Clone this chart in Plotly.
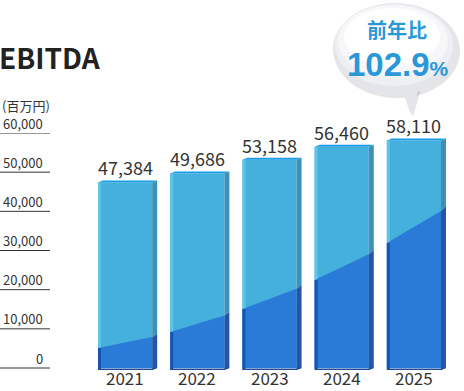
import plotly.graph_objects as go

# ---------------- data ----------------
years = ["2021", "2022", "2023", "2024", "2025"]
ebitda = [47384, 49686, 53158, 56460, 58110]
y_ticks = [0, 10000, 20000, 30000, 40000, 50000, 60000]
unit_label = "(百万円)"
title_text = "EBITDA"
yoy_label = "前年比"
yoy_value = "102.9"

# ---------------- style / layout ----------------
W, H = 464, 391
ML, MR, MT, MB = 89, 14, 133, 18
PW, PH = W - ML - MR, H - MT - MB
Y_MAX = 60000
Y_MIN = -Y_MAX * 5 / 235           # leave a few px under zero line
XU = 5 / PW                        # x data units per pixel
YU = (Y_MAX - Y_MIN) / PH          # y data units per pixel
FONT = "Noto Sans CJK JP"
NUM_FONT = "Liberation Sans"
TXT = "#333333"
BLUE_TXT = "#2a98d8"

BAR_W = 0.75
DEPTH_X, DEPTH_Y = 5, 2            # pseudo-3D depth, px
# decorative dark swoosh heights (px above baseline) at bar left / side edge
SWOOSH_L = [20, 36, 59, 88, 125]
SWOOSH_R = [32, 54, 81, 116, 160]


def px2x(px):
    return (px - ML) / PW


def px2y(py):
    return (H - MB - py) / PH


idx = list(range(len(years)))

fig = go.Figure()
fig.add_trace(go.Bar(
    x=idx, y=ebitda, width=BAR_W, marker=dict(color="#45b0dc", line=dict(width=0)),
    hoverinfo="skip", showlegend=False,
))

shapes = []


def poly(pts, color):
    d = "M " + " L ".join(f"{x},{y}" for x, y in pts) + " Z"
    shapes.append(dict(type="path", path=d, xref="x", yref="y",
                       fillcolor=color, line=dict(width=0), layer="above"))


hw = BAR_W / 2
for i, v in enumerate(ebitda):
    xl, xr = i - hw, i + hw
    xs = xr + DEPTH_X * XU
    dy = DEPTH_Y * YU
    frac = (2 * hw) / (2 * hw + DEPTH_X * XU)
    sl = SWOOSH_L[i] * YU
    srs = SWOOSH_R[i] * YU
    srf = sl + (srs - sl) * frac
    stripe = xl + 3 * XU
    # dark lower front
    poly([(xl, 0), (xr, 0), (xr, srf), (xl, sl)], "#2a7bd8")
    # side faces
    poly([(xr, srf), (xs, srs + dy), (xs, v + dy), (xr, v)], "#3e90b6")
    poly([(xr, -dy), (xs, 0), (xs, srs + dy), (xr, srf)], "#2455a8")
    # left stripe
    poly([(xl, sl), (stripe, sl + (srf - sl) * 0.05), (stripe, v), (xl, v)], "#5cc5ea")
    poly([(xl, -dy), (stripe, -dy), (stripe, sl), (xl, sl)], "#1555b0")
    # bottom band
    poly([(xl, -dy), (xr, -dy), (xs, 0), (xs, dy * 0.2), (xr, -dy * 0.2), (xl, -dy * 0.2)], "#1c4c98")
    # top face
    poly([(xl, v), (xl + DEPTH_X * XU, v + dy), (xs, v + dy), (xr, v)], "#1a9be6")

# y-axis labels with rules
annotations = []
for t in y_ticks:
    shapes.append(dict(type="line", xref="paper", yref="y", x0=px2x(0), x1=px2x(50),
                       y0=t, y1=t, line=dict(color=TXT, width=1)))
    annotations.append(dict(xref="paper", yref="y", x=px2x(44), y=t, yshift=10,
                            xanchor="right", yanchor="middle", showarrow=False, borderpad=0,
                            text=f"{t:,}", font=dict(family=FONT, size=13, color=TXT)))

annotations.append(dict(xref="paper", yref="y", x=px2x(1), y=Y_MAX, yshift=28,
                        xanchor="left", yanchor="middle", showarrow=False, borderpad=0,
                        text=unit_label, font=dict(family=FONT, size=13, color=TXT)))
annotations.append(dict(xref="paper", yref="y", x=px2x(-2), y=Y_MAX, yshift=76,
                        xanchor="left", yanchor="middle", showarrow=False, borderpad=0,
                        text=title_text, font=dict(family=FONT, size=28, color="#222222", weight=700)))

# value labels and category labels
for i, v in zip(idx, ebitda):
    annotations.append(dict(x=i, y=v, xref="x", yref="y", yshift=1, yanchor="bottom",
                            showarrow=False, text=f"{v:,}", borderpad=0,
                            font=dict(family=FONT, size=18, color=TXT)))
    annotations.append(dict(x=i, y=px2y(391), xref="x", yref="paper", yanchor="bottom",
                            showarrow=False, text=years[i], borderpad=0,
                            font=dict(family=FONT, size=17, color=TXT)))

# speech bubble
def ellipse(cx, cy, rx, ry, color):
    shapes.append(dict(type="circle", xref="paper", yref="paper",
                       x0=px2x(cx - rx), x1=px2x(cx + rx), y0=px2y(cy + ry), y1=px2y(cy - ry),
                       fillcolor=color, line=dict(width=0), layer="above"))


def ppoly(pts, color):
    d = "M " + " L ".join(f"{px2x(x)},{px2y(y)}" for x, y in pts) + " Z"
    shapes.append(dict(type="path", path=d, xref="paper", yref="paper",
                       fillcolor=color, line=dict(width=0), layer="above"))


ellipse(397, 51, 63, 47, "rgba(0,0,0,0.10)")
ppoly([(404, 92), (421, 89), (413, 117)], "rgba(0,0,0,0.10)")
ellipse(395, 49, 62, 46, "#e4e5ea")
ppoly([(402, 90), (419, 87), (411, 115)], "#e4e5ea")
ellipse(394, 45, 59, 41, "#eeeff2")
ellipse(393, 41, 55, 36, "#f7f7f9")
ellipse(392, 37, 48, 29, "#ffffff")

annotations.append(dict(
    xref="paper", yref="paper", x=px2x(397), y=px2y(45),
    xanchor="center", yanchor="bottom", showarrow=False, borderpad=0,
    text=yoy_label, font=dict(family=FONT, size=20, color=BLUE_TXT, weight=700)))
annotations.append(dict(
    xref="paper", yref="paper", x=px2x(398), y=px2y(45),
    xanchor="center", yanchor="top", showarrow=False, borderpad=0,
    text=f"{yoy_value}<span style='font-size:21px'>%</span>",
    font=dict(family=NUM_FONT, size=33, color=BLUE_TXT, weight=700)))

fig.update_layout(
    width=W, height=H, margin=dict(l=ML, r=MR, t=MT, b=MB, pad=0, autoexpand=False),
    paper_bgcolor="white", plot_bgcolor="white",
    shapes=shapes, annotations=annotations, showlegend=False,
    xaxis=dict(type="linear", range=[-0.5, 4.5], showticklabels=False,
               showgrid=False, zeroline=False, showline=False, automargin=False,
               ticks="", fixedrange=True),
    yaxis=dict(range=[Y_MIN, Y_MAX], visible=False, showgrid=False, zeroline=False,
               automargin=False, fixedrange=True),
    font=dict(family=FONT),
)

fig.write_html("out.html", include_plotlyjs=True, config={"displayModeBar": False},
               post_script="document.body.style.margin='0';document.body.style.overflow='hidden';")
